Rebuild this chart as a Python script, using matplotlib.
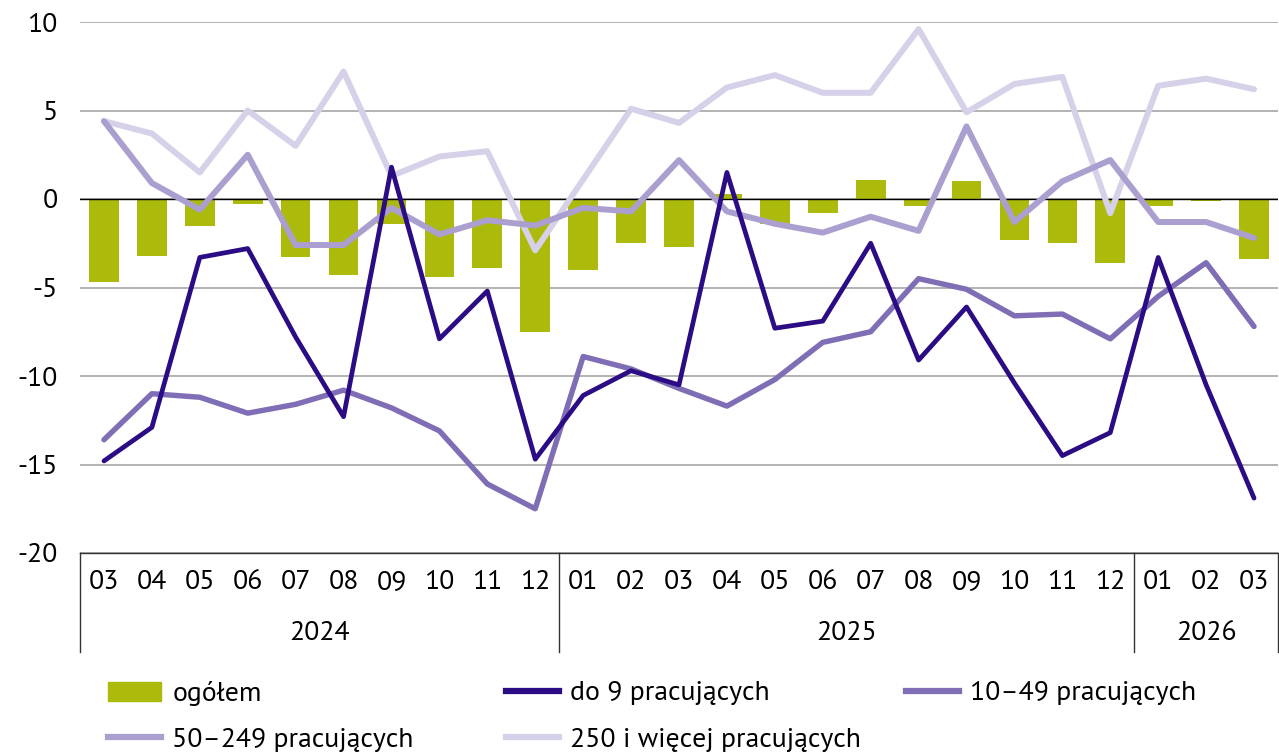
import matplotlib
matplotlib.use("Agg")
import matplotlib.pyplot as plt
import matplotlib.transforms as mtransforms
from matplotlib.lines import Line2D
from matplotlib.patches import Patch

plt.rcParams['font.family'] = ['PT Sans', 'DejaVu Sans']

months = ['03', '04', '05', '06', '07', '08', '09', '10', '11', '12',
          '01', '02', '03', '04', '05', '06', '07', '08', '09', '10', '11', '12',
          '01', '02', '03']
years = ['2024', '2025', '2026']
year_len = [10, 12, 3]

ogolem = [-4.7, -3.2, -1.5, -0.3, -3.3, -4.3, -1.4, -4.4, -3.9, -7.5,
          -4.0, -2.5, -2.7, 0.3, -1.4, -0.8, 1.1, -0.4, 1.0, -2.3, -2.5, -3.6,
          -0.4, -0.1, -3.4]
do_9 = [-14.8, -12.9, -3.3, -2.8, -7.8, -12.3, 1.8, -7.9, -5.2, -14.7,
        -11.1, -9.7, -10.5, 1.5, -7.3, -6.9, -2.5, -9.1, -6.1, -10.4, -14.5, -13.2,
        -3.3, -10.5, -16.9]
od_10_49 = [-13.6, -11.0, -11.2, -12.1, -11.6, -10.8, -11.8, -13.1, -16.1, -17.5,
            -8.9, -9.6, -10.7, -11.7, -10.2, -8.1, -7.5, -4.5, -5.1, -6.6, -6.5, -7.9,
            -5.5, -3.6, -7.2]
od_50_249 = [4.4, 0.9, -0.6, 2.5, -2.6, -2.6, -0.5, -2.0, -1.2, -1.5,
             -0.5, -0.7, 2.2, -0.7, -1.4, -1.9, -1.0, -1.8, 4.1, -1.3, 1.0, 2.2,
             -1.3, -1.3, -2.2]
od_250 = [4.4, 3.7, 1.5, 5.0, 3.0, 7.2, 1.3, 2.4, 2.7, -2.9,
          1.1, 5.1, 4.3, 6.3, 7.0, 6.0, 6.0, 9.6, 4.9, 6.5, 6.9, -0.8,
          6.4, 6.8, 6.2]

c_bar = '#abba0b'
c_do9 = '#2b0c84'
c_10 = '#7f6eb6'
c_50 = '#ab9fd0'
c_250 = '#d6d1e8'

fs = 20

fig = plt.figure(figsize=(12.79, 7.53), dpi=100)
ax = fig.add_axes([80 / 1279, 1 - 553 / 753, 1198 / 1279, 531 / 753])

x = list(range(len(months)))
ax.bar(x, ogolem, width=0.62, color=c_bar, zorder=2)
ax.axhline(0, color='black', lw=1.0, zorder=3)
ax.plot(x, od_250, color=c_250, lw=4.3, zorder=4, solid_capstyle='round')
ax.plot(x, od_50_249, color=c_50, lw=4.3, zorder=5, solid_capstyle='round')
ax.plot(x, od_10_49, color=c_10, lw=3.9, zorder=6, solid_capstyle='round')
ax.plot(x, do_9, color=c_do9, lw=3.4, zorder=7, solid_capstyle='round')

ax.set_xlim(-0.5, len(months) - 0.5)
ax.set_ylim(-20, 10)
ax.set_yticks([-20, -15, -10, -5, 0, 5, 10])
ax.set_yticklabels(['-20', '-15', '-10', '-5', '0', '5', '10'])
ax.yaxis.grid(True, color='#a6a6a6', lw=1.2, zorder=1)
ax.set_axisbelow(True)
ax.tick_params(axis='y', length=0, pad=16, labelsize=fs)
ax.tick_params(axis='x', length=0, pad=12, labelsize=fs)
ax.set_xticks(x)
ax.set_xticklabels(months)
for s in ['left', 'right', 'top']:
    ax.spines[s].set_visible(False)
ax.spines['bottom'].set_color('#333333')
ax.spines['bottom'].set_linewidth(1.0)

# two-level category axis: year separators and year labels
trans = mtransforms.blended_transform_factory(ax.transData, ax.transAxes)
edges = [-0.5]
for n in year_len:
    edges.append(edges[-1] + n)
for e in edges:
    ax.plot([e, e], [0, -99 / 531], transform=trans, color='#333333', lw=1.0,
            clip_on=False)
for yr, a, b in zip(years, edges[:-1], edges[1:]):
    ax.text((a + b) / 2, -80 / 531, yr, transform=trans, ha='center', va='center',
            fontsize=fs)

# legend, laid out in three columns
col1 = [Patch(color=c_bar), Line2D([], [], color=c_50, lw=4.5)]
col2 = [Line2D([], [], color=c_do9, lw=4.5), Line2D([], [], color=c_250, lw=4.5)]
col3 = [Line2D([], [], color=c_10, lw=4.5)]
lab1 = ['ogółem', '50–249 pracujących']
lab2 = ['do 9 pracujących', '250 i więcej pracujących']
lab3 = ['10–49 pracujących']
for h, l, xpos in [(col1, lab1, 108), (col2, lab2, 506), (col3, lab3, 906)]:
    fig.legend(h, l, loc='upper left', bbox_to_anchor=(xpos / 1279, 1 - 681 / 753),
               frameon=False, fontsize=fs, handlelength=1.9, handleheight=0.7,
               handletextpad=0.42, labelspacing=0.78, borderpad=0, borderaxespad=0)

fig.savefig('out.png', dpi=100)
